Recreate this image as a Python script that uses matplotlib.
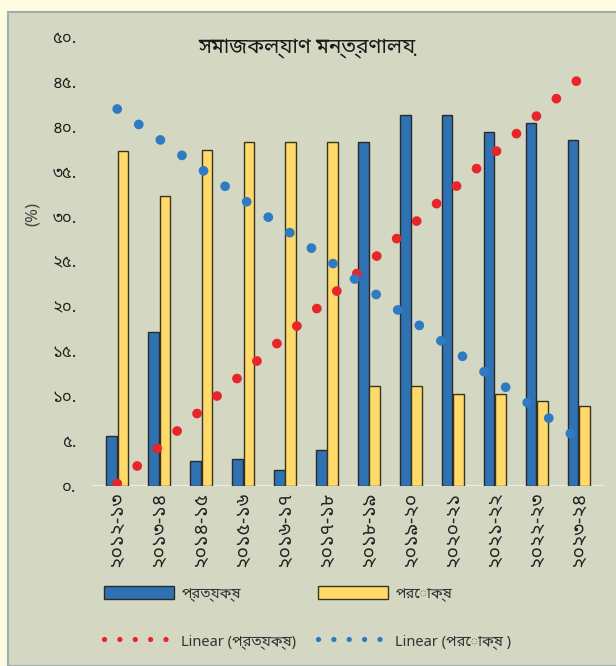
import matplotlib
matplotlib.use("Agg")
import matplotlib.pyplot as plt
from matplotlib.patches import Patch, Rectangle
from matplotlib.lines import Line2D
import numpy as np

BN = ['Noto Sans Bengali', 'DejaVu Sans']
plt.rcParams['font.family'] = BN

years = ['২০১২-১৩', '২০১৩-১৪', '২০১৪-১৫', '২০১৫-১৬', '২০১৬-১৭', '২০১৭-১৮',
         '২০১৮-১৯', '২০১৯-২০', '২০২০-২১', '২০২১-২২', '২০২২-২৩', '২০২৩-২৪']
direct = [5.6, 17.2, 2.8, 3.0, 1.8, 4.0, 38.3, 41.3, 41.3, 39.4, 40.4, 38.5]     # প্রত্যক্ষ
indirect = [37.3, 32.3, 37.4, 38.3, 38.3, 38.3, 11.1, 11.1, 10.2, 10.2, 9.5, 8.9]  # পরোক্ষ
yticks = [0, 5, 10, 15, 20, 25, 30, 35, 40, 45, 50]
ytick_labels = ['০.', '৫.', '১০.', '১৫.', '২০.', '২৫.', '৩০.', '৩৫.', '৪০.', '৪৫.', '৫০.']

blue = '#2F72B4'
yellow = '#FFD96A'
red = '#E8262A'
dotblue = '#2E7BC4'
bg = '#D4D8C2'

fig = plt.figure(figsize=(6.16, 6.66), dpi=100)
fig.patch.set_facecolor('#FFFCE2')
fig.patches.append(Rectangle((8 / 616, 0), 1, 1 - 12 / 666, transform=fig.transFigure,
                             facecolor=bg, edgecolor='#9FAEAE', linewidth=1.5, zorder=-5))

ax = fig.add_axes([92 / 616, 180 / 666, 512 / 616, 449 / 666])
ax.set_zorder(2)
ax.set_facecolor('none')
ind = np.arange(len(years))
w = 0.245
ax.bar(ind - w / 2 - 0.01, direct, w, color=blue, edgecolor='#2A2A2A', linewidth=1, zorder=3)
ax.bar(ind + w / 2 + 0.01, indirect, w, color=yellow, edgecolor='#3A3320', linewidth=1, zorder=3)

# linear trendlines (least squares on the bar values)
xt = np.linspace(0, 11, 200)
p1 = np.polyfit(ind, direct, 1)
p2 = np.polyfit(ind, indirect, 1)
ax.plot(xt, np.polyval(p1, xt), color=red, lw=7, linestyle=(0, (0.01, 2.72)),
        dash_capstyle='round', zorder=4)
ax.plot(xt, np.polyval(p2, xt), color=dotblue, lw=7, linestyle=(0, (0.01, 2.72)),
        dash_capstyle='round', zorder=4)

ax.axhline(0, color='#ECEEE4', lw=1.5, zorder=2)
ax.set_xlim(-0.6, 11.6)
ax.set_ylim(0, 50)
ax.set_yticks(yticks)
ax.set_yticklabels(ytick_labels, fontsize=12, color='#222222')
ax.set_xticks(ind)
ax.set_xticklabels(years, rotation=90, fontsize=14, color='#222222')
ax.tick_params(length=0, axis='y', pad=11)
ax.tick_params(length=0, axis='x', pad=4)
for s in ax.spines.values():
    s.set_visible(False)

fig.text(33 / 616, 1 - 214 / 666, '(%)', rotation=90, ha='center', va='center',
         fontsize=12, color='#444444')
fig.text(307 / 616, 1 - 47 / 666, 'সমাজকল্যাণ মন্ত্রণালয়', ha='center', va='center',
         fontsize=15, fontweight='bold', color='#1A1A1A')

handles = [Patch(facecolor=blue, edgecolor='#2A2A2A', linewidth=1),
           Line2D([0], [0], color=red, lw=3.8, linestyle=(0, (0.01, 2.9)), dash_capstyle='round'),
           Patch(facecolor=yellow, edgecolor='#3A3320', linewidth=1),
           Line2D([0], [0], color=dotblue, lw=3.8, linestyle=(0, (0.01, 2.9)), dash_capstyle='round')]
labels = ['প্রত্যক্ষ', 'Linear (প্রত্যক্ষ)', 'পরোক্ষ', 'Linear (পরোক্ষ )']
leg = fig.legend(handles, labels, ncol=2, loc='upper left',
                 bbox_to_anchor=(104 / 616, 1 - 586 / 666), frameon=False,
                 fontsize=10.5, handlelength=4.8, handleheight=1.0, handletextpad=0.5,
                 labelspacing=2.2, columnspacing=1.5, borderpad=0, borderaxespad=0)
for t in leg.get_texts():
    t.set_color('#333333')

fig.savefig('out.png', dpi=100, facecolor=fig.get_facecolor())
